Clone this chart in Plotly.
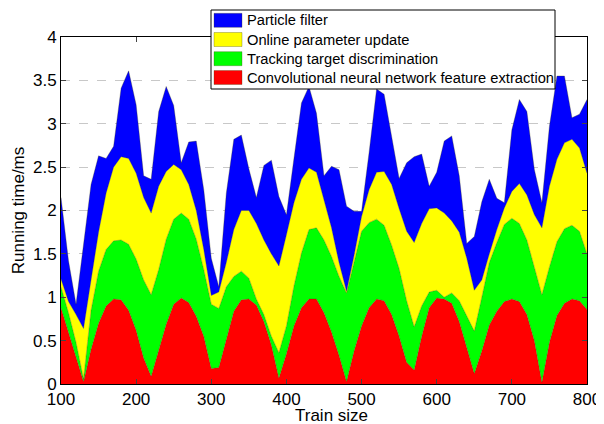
import plotly.graph_objects as go

train_size = list(range(100, 801, 10))

cnn = [0.88, 0.60, 0.32, 0.03, 0.40, 0.70, 0.90, 0.98, 0.97, 0.85,
       0.62, 0.30, 0.09, 0.40, 0.69, 0.92, 0.99, 0.94, 0.78, 0.55,
       0.18, 0.19, 0.51, 0.84, 0.97, 0.98, 0.91, 0.72, 0.45, 0.07,
       0.35, 0.67, 0.88, 0.98, 0.98, 0.82, 0.60, 0.33, 0.03, 0.38,
       0.67, 0.88, 0.98, 0.96, 0.80, 0.55, 0.25, 0.16, 0.55, 0.88,
       0.99, 0.98, 0.93, 0.72, 0.42, 0.12, 0.38, 0.68, 0.84, 0.95,
       0.98, 0.95, 0.80, 0.50, 0.02, 0.48, 0.79, 0.93, 0.98, 0.96,
       0.86]

tracking = [0.24, 0.22, 0.16, 0.03, 0.45, 0.60, 0.65, 0.67, 0.69, 0.76,
            0.82, 0.90, 0.94, 0.92, 0.98, 0.98, 0.98, 0.96, 0.89, 0.77,
            0.74, 0.68, 0.61, 0.40, 0.33, 0.24, 0.07, 0.08, 0.10, 0.29,
            0.32, 0.46, 0.63, 0.80, 0.82, 0.84, 0.87, 0.91, 1.02, 1.04,
            1.09, 0.98, 0.92, 0.87, 0.80, 0.78, 0.71, 0.50, 0.35, 0.18,
            0.09, 0.02, 0.12, 0.24, 0.36, 0.49, 0.62, 0.72, 0.79, 0.89,
            0.93, 0.90, 0.86, 0.85, 1.01, 0.87, 0.85, 0.86, 0.85, 0.80,
            0.64]

online_update = [0.09, 0.13, 0.32, 0.58, 0.35, 0.45, 0.65, 0.85, 0.96, 0.99,
                 0.99, 0.95, 0.94, 0.96, 0.78, 0.63, 0.50, 0.40, 0.33, 0.23,
                 0.10, 0.19, 0.28, 0.54, 0.70, 0.78, 0.87, 0.86, 0.95, 1.00,
                 1.05, 0.96, 0.85, 0.71, 0.64, 0.46, 0.33, 0.16, 0.02, 0.06,
                 0.17, 0.38, 0.54, 0.62, 0.70, 0.69, 0.80, 0.97, 0.95, 0.96,
                 0.95, 0.97, 0.83, 0.79, 0.67, 0.47, 0.20, 0.10, 0.15, 0.19,
                 0.31, 0.46, 0.52, 0.60, 0.77, 0.93, 0.95, 0.99, 0.99, 0.96,
                 0.93]

particle_filter = [0.94, 0.47, 0.12, 0.96, 1.10, 0.88, 0.40, 0.24, 0.79, 1.01,
                   0.79, 0.25, 0.39, 0.86, 0.98, 0.68, 0.08, 0.49, 0.80, 0.69,
                   0.43, 0.06, 0.80, 1.04, 0.87, 0.48, 0.30, 0.86, 1.08, 0.80,
                   0.23, 0.51, 0.88, 0.94, 0.68, 0.28, 0.71, 1.07, 0.98, 0.51,
                   0.06, 0.43, 0.96, 0.89, 0.53, 0.35, 0.79, 0.99, 0.80, 0.26,
                   0.41, 0.83, 0.98, 0.65, 0.17, 0.62, 0.90, 0.86, 0.36, 0.06,
                   0.71, 0.97, 0.96, 0.52, 0.29, 0.69, 0.96, 0.77, 0.25, 0.39,
                   0.85]

series = [
    ("Convolutional neural network feature extraction", cnn, "#FF0000"),
    ("Tracking target discrimination", tracking, "#00FF00"),
    ("Online parameter update", online_update, "#FFFF00"),
    ("Particle filter", particle_filter, "#0000FF"),
]

x_ticks = [100, 200, 300, 400, 500, 600, 700, 800]
y_ticks = [0, 0.5, 1, 1.5, 2, 2.5, 3, 3.5, 4]
y_tick_text = ["0", "0.5", "1", "1.5", "2", "2.5", "3", "3.5", "4"]

# page body has an 8px margin, so the figure is sized to fit the window
OFF = 8
W, H = 596, 416
L, R, T, B = 53, 17, 29, 40
edge = "rgba(60,60,0,0.6)"

fig = go.Figure()
for name, vals, color in series:
    fig.add_trace(go.Scatter(
        x=train_size, y=vals, name=name, mode="lines",
        stackgroup="one", fillcolor=color,
        line=dict(color=edge, width=0.5),
        showlegend=False,
    ))

pw, ph = W - L - R, H - T - B
def px(xp):
    return (xp - OFF - L) / pw
def py(yp):
    return (H - B - (yp - OFF)) / ph

axis_font = dict(family="Liberation Sans, Arial, sans-serif", size=17, color="black")

shapes = [dict(type="rect", xref="paper", yref="paper",
               x0=px(211), x1=px(555), y0=py(89), y1=py(10),
               line=dict(color="black", width=1), fillcolor="white", layer="above")]
annotations = []
row_centers = [20.3, 39.5, 58.7, 77.5]
for (name, vals, color), yc in zip(reversed(series), row_centers):
    shapes.append(dict(type="rect", xref="paper", yref="paper",
                       x0=px(214), x1=px(242), y0=py(yc + 7), y1=py(yc - 7),
                       line=dict(color=edge, width=0.5), fillcolor=color, layer="above"))
    annotations.append(dict(xref="paper", yref="paper", x=px(245), y=py(yc),
                            xanchor="left", yanchor="middle", showarrow=False,
                            text=name,
                            font=dict(family="Liberation Sans, Arial, sans-serif",
                                      size=14.7, color="black")))

# x-axis title placed as text below the tick labels
annotations.append(dict(xref="paper", yref="paper", x=px(331), y=py(415.5),
                        xanchor="center", yanchor="middle", showarrow=False,
                        text="Train size", font=axis_font))

fig.update_layout(
    width=W, height=H,
    margin=dict(l=L, r=R, t=T, b=B),
    paper_bgcolor="white", plot_bgcolor="white",
    font=dict(family="Liberation Sans, Arial, sans-serif", color="black"),
    showlegend=False,
    shapes=shapes,
    annotations=annotations,
    xaxis=dict(
        range=[100, 800], tickvals=x_ticks, ticks="inside", ticklen=5,
        showline=True, linecolor="black", linewidth=1, mirror="ticks",
        showgrid=False, zeroline=False, tickfont=axis_font, automargin=False,
    ),
    yaxis=dict(
        range=[0, 4], tickvals=y_ticks, ticktext=y_tick_text,
        ticks="inside", ticklen=5,
        showline=True, linecolor="black", linewidth=1, mirror="ticks",
        showgrid=True, gridcolor="#c8c8c8", griddash="dash", gridwidth=1,
        zeroline=False, tickfont=axis_font, automargin=False,
        title=dict(text="Running time/ms", font=axis_font, standoff=4),
    ),
)

fig.write_html("out.html")
